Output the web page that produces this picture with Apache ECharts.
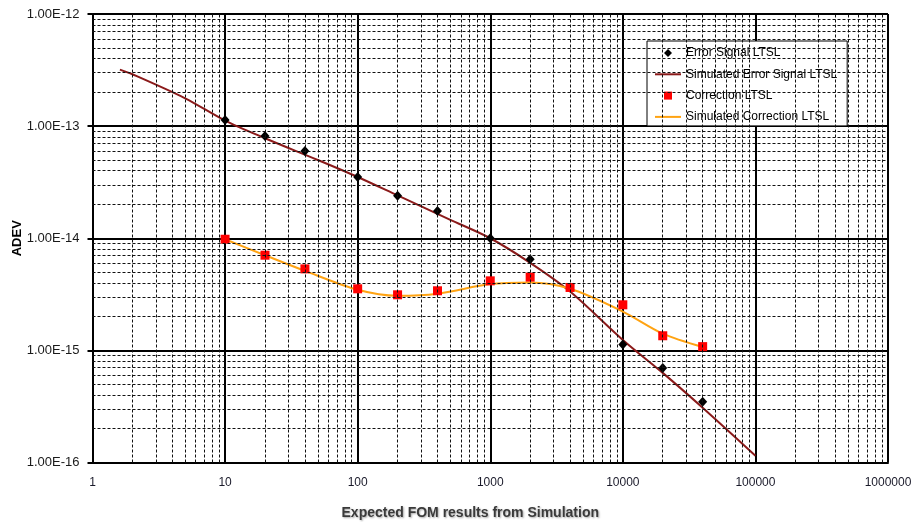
<!DOCTYPE html>
<html>
<head>
<meta charset="utf-8">
<script src="https://cdn.jsdelivr.net/npm/echarts@6/dist/echarts.min.js"></script>
<style>
  html, body { margin: 0; padding: 0; background: #fff; }
  #chart { width: 913px; height: 522px; }
</style>
</head>
<body>
<div id="chart"></div>
<script>
// measured points
var errX = [10, 20, 40, 100, 200, 400, 1000, 2000, 10000, 20000, 40000];
var errY = [1.135e-13, 8.18e-14, 6.01e-14, 3.52e-14, 2.39e-14, 1.75e-14, 1.0e-14, 6.5e-15, 1.13e-15, 6.95e-16, 3.48e-16];
var corX = [10, 20, 40, 100, 200, 400, 1000, 2000, 4000, 10000, 20000, 40000];
var corY = [9.8e-15, 7.06e-15, 5.33e-15, 3.54e-15, 3.13e-15, 3.40e-15, 4.17e-15, 4.5e-15, 3.64e-15, 2.55e-15, 1.35e-15, 1.08e-15];
// simulated curves
var simErrX = [1.61, 2, 5, 10, 20, 50, 100, 200, 500, 1000, 2000, 4000, 10000, 20000, 40000, 100000];
var simErrY = [3.19e-13, 2.9e-13, 1.77e-13, 1.12e-13, 7.8e-14, 4.99e-14, 3.52e-14, 2.41e-14, 1.46e-14, 1.0e-14, 6.04e-15, 3.35e-15, 1.24e-15, 6.3e-16, 3.08e-16, 1.15e-16];
var simCorX = [10, 20, 40, 100, 200, 400, 1000, 2000, 4000, 10000, 20000, 40000];
var simCorY = [9.8e-15, 7.06e-15, 5.12e-15, 3.47e-15, 3.07e-15, 3.2e-15, 3.9e-15, 4.03e-15, 3.54e-15, 2.22e-15, 1.41e-15, 1.07e-15];

var xMin = 1, xMax = 1000000;
var yMin = 1e-16, yMax = 1e-12;
var xDecades = [1, 10, 100, 1000, 10000, 100000];
var yDecades = [1e-16, 1e-15, 1e-14, 1e-13];

function pairs(xs, ys) {
	var out = [];
	for (var i = 0; i < xs.length; i++) out.push([xs[i], ys[i]]);
	return out;
}

// minor grid: 2..9 inside every decade
var minorLines = [];
xDecades.forEach(function(d) {
	for (var k = 2; k <= 9; k++) minorLines.push([{ coord: [d * k, yMin] }, { coord: [d * k, yMax] }]);
});
yDecades.forEach(function(d) {
	for (var k = 2; k <= 9; k++) minorLines.push([{ coord: [xMin, d * k] }, { coord: [xMax, d * k] }]);
});

var font = '"Liberation Sans", Arial, sans-serif';
var noSymbol = { opacity: 0 };
var chart = echarts.init(document.getElementById('chart'));
var option = {
	backgroundColor: '#fff',
	animation: false,
	textStyle: { fontFamily: font },
	grid: { left: 92.5, right: 25, top: 14, bottom: 59.5, containLabel: false, outerBoundsMode: 'none' },
	legend: {
		orient: 'vertical',
		left: 647,
		top: 41,
		padding: [6, 10, 3, 7],
		itemWidth: 26,
		itemHeight: 8,
		itemGap: 9.3,
		backgroundColor: '#fff',
		borderColor: '#000',
		borderWidth: 1,
		borderRadius: 0,
		symbolKeepAspect: true,
		textStyle: { fontSize: 12, color: '#000', fontFamily: font },
		data: [
			{ name: 'Error Signal LTSL', icon: 'path://M0,-1L1,0L0,1L-1,0Z' },
			{ name: 'Simulated Error Signal LTSL', itemStyle: noSymbol },
			{ name: 'Correction LTSL', icon: 'path://M0,0L1,0L1,1L0,1Z' },
			{ name: 'Simulated Correction LTSL', itemStyle: noSymbol }
		]
	},
	xAxis: {
		type: 'log',
		logBase: 10,
		min: xMin,
		max: xMax,
		name: 'Expected FOM results from Simulation',
		nameLocation: 'middle',
		nameGap: 44,
		nameMoveOverlap: false,
		nameTextStyle: {
			fontSize: 14, fontWeight: 'bold', color: '#3a3a3a', fontFamily: font,
			padding: [0, 40, 0, 0],
			textShadowColor: 'rgba(0,0,0,0.35)', textShadowBlur: 2, textShadowOffsetX: 1, textShadowOffsetY: 1
		},
		axisLine: { lineStyle: { color: '#000', width: 2 } },
		axisTick: { show: false },
		axisLabel: {
			fontSize: 12, color: '#1a1a2a', margin: 14,
			formatter: function(v) { return String(Math.round(v)); }
		},
		splitLine: { show: true, lineStyle: { color: '#000', width: 2 } },
		minorTick: { show: false },
		minorSplitLine: { show: false }
	},
	yAxis: {
		type: 'log',
		logBase: 10,
		min: yMin,
		max: yMax,
		name: 'ADEV',
		nameLocation: 'middle',
		nameRotate: 90,
		nameGap: 69,
		nameMoveOverlap: false,
		nameTextStyle: { fontSize: 13, fontWeight: 'bold', color: '#000', fontFamily: font },
		axisLine: { lineStyle: { color: '#000', width: 2 } },
		axisTick: { show: true, length: 5, lineStyle: { color: '#000', width: 2 } },
		axisLabel: {
			fontSize: 13, color: '#1a1a1a', margin: 13,
			formatter: function(v) { return v.toExponential(2).toUpperCase(); }
		},
		splitLine: { show: true, lineStyle: { color: '#000', width: 2 } }
	},
	series: [
		{
			name: 'grid',
			type: 'line',
			z: 1,
			silent: true,
			showSymbol: false,
			data: [],
			markLine: {
				silent: true,
				symbol: ['none', 'none'],
				label: { show: false },
				lineStyle: { color: '#111', width: 1, type: [3, 2] },
				emphasis: { disabled: true },
				data: minorLines
			}
		},
		{
			name: 'Simulated Error Signal LTSL',
			type: 'line',
			z: 3,
			smooth: 0.3,
			symbol: 'none',
			lineStyle: { color: '#8B1A1A', width: 2 },
			itemStyle: { color: '#8B1A1A' },
			data: pairs(simErrX, simErrY)
		},
		{
			name: 'Simulated Correction LTSL',
			type: 'line',
			z: 3,
			smooth: 0.3,
			symbol: 'none',
			lineStyle: { color: '#FFA312', width: 2 },
			itemStyle: { color: '#FFA312' },
			data: pairs(simCorX, simCorY)
		},
		{
			name: 'Error Signal LTSL',
			type: 'scatter',
			z: 4,
			symbol: 'diamond',
			symbolSize: [9, 10],
			itemStyle: { color: '#000', opacity: 1 },
			data: pairs(errX, errY)
		},
		{
			name: 'Correction LTSL',
			type: 'scatter',
			z: 4,
			symbol: 'rect',
			symbolSize: 9,
			itemStyle: { color: '#FF0000', opacity: 1 },
			data: pairs(corX, corY)
		}
	]
};
chart.setOption(option);
</script>
</body>
</html>
